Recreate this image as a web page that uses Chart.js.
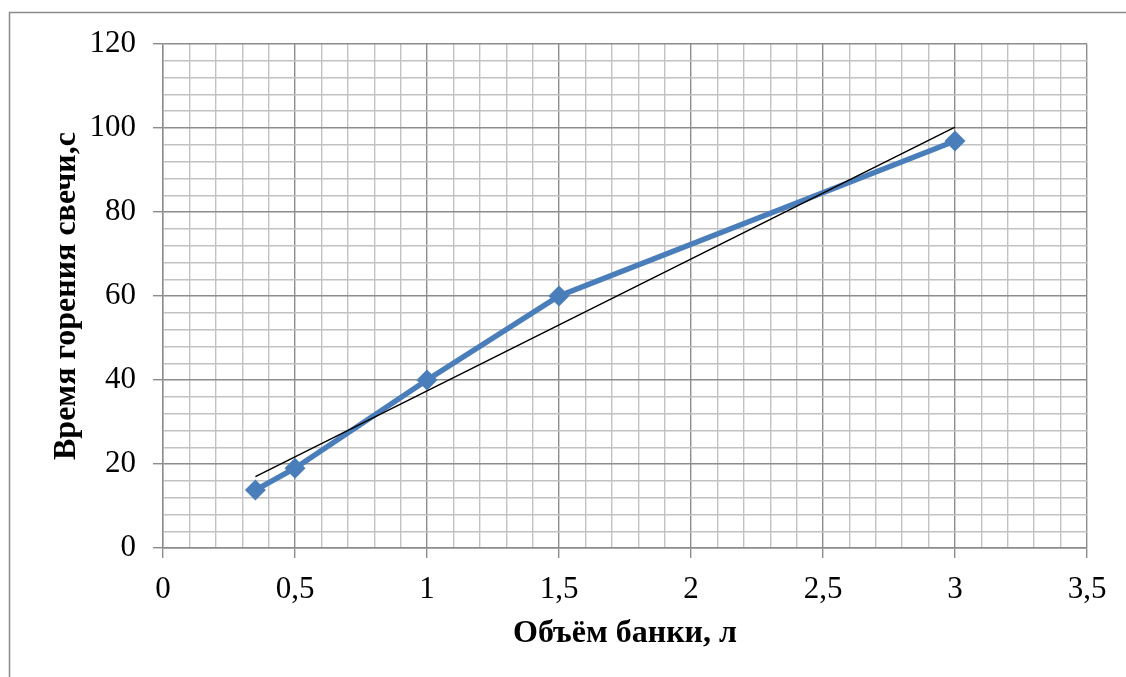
<!DOCTYPE html>
<html lang="ru">
<head>
<meta charset="utf-8">
<title>Время горения свечи</title>
<script src="https://cdn.jsdelivr.net/npm/chart.js@4/dist/chart.umd.min.js"></script>
<style>
    html, body { margin: 0; padding: 0; background: #fff; overflow: hidden; }
    #wrap { position: relative; width: 1126px; height: 677px; }
</style>
</head>
<body>
<div id="wrap"><canvas id="chartSvecha" width="1126" height="677"></canvas></div>
<script>
// Данные опыта
const obyom = [0.35, 0.5, 1, 1.5, 3];
const vremya = [13.8, 19, 40, 60, 96.9];
// Линия тренда (концы)
const trendX = [0.35, 3];
const trendY = [17.0, 100.2];

const xTicks = [0, 0.5, 1, 1.5, 2, 2.5, 3, 3.5];
const yTicks = [0, 20, 40, 60, 80, 100, 120];

const serif = "'Liberation Serif', 'Times New Roman', serif";

function isMajor(v, list) {
    return list.some(t => Math.abs(t - v) < 1e-6);
}

// рамка вокруг диаграммы
const framePlugin = {
    id: 'frame',
    beforeDraw(chart) {
        const ctx = chart.ctx;
        ctx.save();
        ctx.fillStyle = '#fff';
        ctx.fillRect(0, 0, chart.width, chart.height);
        ctx.strokeStyle = '#8a8a8a';
        ctx.lineWidth = 1.5;
        ctx.strokeRect(9.5, 12.5, chart.width + 20, chart.height + 20);
        ctx.restore();
    }
};

document.addEventListener("DOMContentLoaded", function () {
    new Chart(document.getElementById("chartSvecha"), {
        type: "scatter",
        data: {
            datasets: [
                {
                    label: "Тренд",
                    data: trendX.map((x, i) => ({ x: x, y: trendY[i] })),
                    showLine: true,
                    borderColor: "#000",
                    borderWidth: 1.5,
                    pointRadius: 0,
                    order: 0
                },
                {
                    label: "Время",
                    data: obyom.map((x, i) => ({ x: x, y: vremya[i] })),
                    showLine: true,
                    borderColor: "#4a7ebb",
                    backgroundColor: "#4a7ebb",
                    borderWidth: 5.5,
                    pointStyle: "rectRot",
                    pointRadius: 10.5,
                    pointBorderWidth: 0,
                    order: 1
                }
            ]
        },
        options: {
            responsive: false,
            animation: false,
            layout: { padding: { top: 44, right: 39, left: 0, bottom: 0 } },
            plugins: { legend: { display: false }, tooltip: { enabled: false } },
            scales: {
                x: {
                    type: "linear",
                    min: 0, max: 3.5,
                    afterFit: s => { s.height = 129; },
                    afterBuildTicks: s => {
                        s.ticks = [];
                        for (let i = 0; i <= 35; i++) s.ticks.push({ value: i / 10 });
                    },
                    grid: {
                        color: c => isMajor(c.tick.value, xTicks) ? "#8c8c8c" : "#c2c2c2",
                        lineWidth: 1.4,
                        tickColor: c => isMajor(c.tick.value, xTicks) ? "#8c8c8c" : "rgba(0,0,0,0)",
                        tickLength: 10
                    },
                    border: { color: "#8c8c8c", width: 1.4 },
                    ticks: {
                        autoSkip: false, maxRotation: 0, minRotation: 0,
                        padding: 13,
                        color: "#000",
                        font: { family: serif, size: 31 },
                        callback: v => isMajor(v, xTicks) ? String(Math.round(v * 10) / 10).replace(".", ",") : ""
                    },
                    title: {
                        display: true,
                        text: "Объём банки, л",
                        color: "#000",
                        font: { family: serif, size: 32, weight: "bold" },
                        padding: { top: 0, bottom: 24 }
                    }
                },
                y: {
                    min: 0, max: 120,
                    afterFit: s => { s.width = 163; },
                    afterBuildTicks: s => {
                        s.ticks = [];
                        for (let i = 0; i <= 30; i++) s.ticks.push({ value: i * 4 });
                    },
                    grid: {
                        color: c => isMajor(c.tick.value, yTicks) ? "#8c8c8c" : "#c2c2c2",
                        lineWidth: 1.4,
                        tickColor: c => isMajor(c.tick.value, yTicks) ? "#8c8c8c" : "rgba(0,0,0,0)",
                        tickLength: 10
                    },
                    border: { color: "#8c8c8c", width: 1.4 },
                    ticks: {
                        autoSkip: false,
                        padding: 17,
                        color: "#000",
                        font: { family: serif, size: 31 },
                        callback: v => isMajor(v, yTicks) ? String(v) : ""
                    },
                    title: {
                        display: true,
                        text: "Время горения свечи,с",
                        color: "#000",
                        font: { family: serif, size: 32, weight: "bold" },
                        padding: { top: 48, bottom: 0 }
                    }
                }
            }
        },
        plugins: [framePlugin]
    });
});
</script>
</body>
</html>
